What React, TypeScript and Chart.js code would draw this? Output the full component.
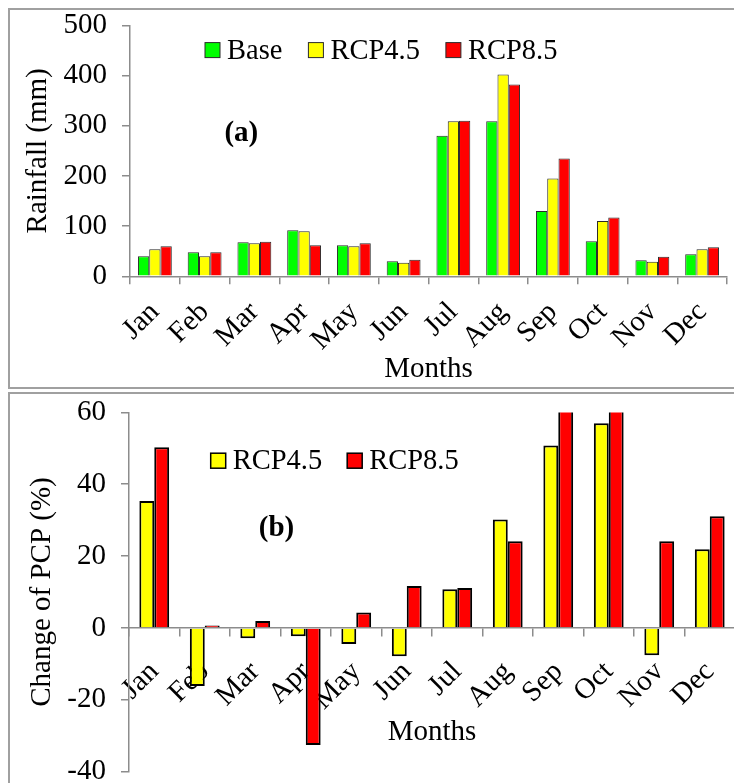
import React, { useEffect, useRef } from 'react';
import { Chart, registerables } from 'chart.js';

Chart.register(...registerables);

const months = ['Jan', 'Feb', 'Mar', 'Apr', 'May', 'Jun', 'Jul', 'Aug', 'Sep', 'Oct', 'Nov', 'Dec'];

// Panel (a): monthly rainfall (mm)
const baseRain = [40, 48, 68, 92, 62, 30, 280, 309, 130, 70, 32, 44];
const rcp45Rain = [54, 40, 66, 90, 60, 27, 309, 402, 195, 110, 29, 54];
const rcp85Rain = [60, 48, 69, 62, 66, 33, 310, 382, 235, 117, 39, 58];

// Panel (b): change of precipitation (%)
const rcp45Change = [35.3, -16.2, -2.9, -2.3, -4.5, -7.9, 10.8, 30.2, 50.8, 57, -7.6, 21.9];
const rcp85Change = [50.3, 0.7, 1.9, -32.6, 4.3, 11.7, 11.1, 24.1, 80.8, 67, 24.1, 31.1];

const rainTicks = [0, 100, 200, 300, 400, 500];
const changeTicks = [-40, -20, 0, 20, 40, 60];

const FONT = '"Liberation Serif", "Times New Roman", serif';
const AXIS_GRAY = '#8c8c8c';
const TICK_SIZE = 29;
const TITLE_SIZE = 29;

type OverlayCfg = {
  legendDx: number;
  legendDy: number;
  gap: number;
  boxBorder: string;
  boxBorderWidth: number;
  tag: string;
  tagDx: number;
  tagDy: number;
};

function makeOverlay(cfg: OverlayCfg) {
  return {
    id: 'overlay',
    afterDraw(chart: any) {
      const { ctx, chartArea } = chart;
      ctx.save();
      ctx.font = `28.5px ${FONT}`;
      ctx.textBaseline = 'middle';
      ctx.textAlign = 'left';
      let x = chartArea.left + cfg.legendDx;
      const y = chartArea.top + cfg.legendDy;
      const box = 15;
      chart.data.datasets.forEach((ds: any) => {
        ctx.fillStyle = ds.backgroundColor;
        ctx.fillRect(x, y - box / 2, box, box);
        ctx.strokeStyle = cfg.boxBorder;
        ctx.lineWidth = cfg.boxBorderWidth;
        ctx.strokeRect(x, y - box / 2, box, box);
        ctx.fillStyle = '#000';
        ctx.fillText(ds.label, x + 22, y + 1);
        x += 22 + ctx.measureText(ds.label).width + cfg.gap;
      });
      ctx.font = `bold 29px ${FONT}`;
      ctx.textAlign = 'center';
      ctx.fillStyle = '#000';
      ctx.fillText(cfg.tag, chartArea.left + cfg.tagDx, chartArea.top + cfg.tagDy);
      ctx.restore();
    },
  };
}

function gridOpts(offset: boolean) {
  return {
    drawOnChartArea: false,
    drawTicks: true,
    tickLength: 8,
    color: AXIS_GRAY,
    tickColor: AXIS_GRAY,
    lineWidth: 1.5,
    offset,
  };
}

const borderOpts = { color: AXIS_GRAY, width: 1.5 };

export default function App() {
  const topRef = useRef<HTMLCanvasElement>(null);
  const botRef = useRef<HTMLCanvasElement>(null);

  useEffect(() => {
    document.body.style.margin = '0';
    const c1 = new Chart(topRef.current as HTMLCanvasElement, {
      type: 'bar',
      data: {
        labels: months,
        datasets: [
          { label: 'Base', data: baseRain, backgroundColor: '#00ff00', borderColor: '#2a2a2a', borderWidth: 1 },
          { label: 'RCP4.5', data: rcp45Rain, backgroundColor: '#ffff00', borderColor: '#2a2a2a', borderWidth: 1 },
          { label: 'RCP8.5', data: rcp85Rain, backgroundColor: '#ff0000', borderColor: '#2a2a2a', borderWidth: 1 },
        ],
      },
      options: {
        responsive: false,
        animation: false,
        events: [],
        categoryPercentage: 0.68,
        barPercentage: 1,
        layout: { padding: { top: 32.3, left: 12, right: 7, bottom: 1.2 } },
        plugins: { legend: { display: false }, tooltip: { enabled: false } },
        scales: {
          x: {
            grid: gridOpts(true),
            border: borderOpts,
            ticks: {
              color: '#000',
              font: { family: FONT, size: TICK_SIZE },
              minRotation: 45,
              maxRotation: 45,
              padding: 11,
              autoSkip: false,
            },
            title: { display: true, text: 'Months', color: '#000', font: { family: FONT, size: TITLE_SIZE }, padding: 0 },
            afterFit: (s: any) => {
              s.height = 110.5;
              s.paddingLeft = 0;
              s.paddingRight = 0;
            },
          },
          y: {
            grid: gridOpts(false),
            border: borderOpts,
            min: rainTicks[0],
            max: rainTicks[rainTicks.length - 1],
            ticks: {
              stepSize: rainTicks[1] - rainTicks[0],
              color: '#000',
              font: { family: FONT, size: TICK_SIZE },
              padding: 15,
            },
            title: { display: true, text: 'Rainfall (mm)', color: '#000', font: { family: FONT, size: TITLE_SIZE }, padding: 0 },
            afterFit: (s: any) => {
              s.width = 109;
            },
          },
        },
      } as any,
      plugins: [
        makeOverlay({
          legendDx: 75,
          legendDy: 24.7,
          gap: 26,
          boxBorder: '#2a2a2a',
          boxBorderWidth: 1,
          tag: '(a)',
          tagDx: 111.3,
          tagDy: 108,
        }),
      ],
    });

    const c2 = new Chart(botRef.current as HTMLCanvasElement, {
      type: 'bar',
      data: {
        labels: months,
        datasets: [
          { label: 'RCP4.5', data: rcp45Change, backgroundColor: '#ffff00', borderColor: '#000', borderWidth: 2 },
          { label: 'RCP8.5', data: rcp85Change, backgroundColor: '#ff0000', borderColor: '#000', borderWidth: 2 },
        ],
      },
      options: {
        responsive: false,
        animation: false,
        events: [],
        categoryPercentage: 0.59,
        barPercentage: 1,
        layout: { padding: { top: 31.7, left: 16, right: 4, bottom: 32.3 } },
        plugins: { legend: { display: false }, tooltip: { enabled: false } },
        scales: {
          x: {
            position: { y: 0 },
            grid: gridOpts(true),
            border: borderOpts,
            ticks: {
              color: '#000',
              font: { family: FONT, size: TICK_SIZE },
              minRotation: 45,
              maxRotation: 45,
              padding: 19,
              autoSkip: false,
            },
            title: { display: true, text: 'Months', color: '#000', font: { family: FONT, size: TITLE_SIZE }, padding: 0 },
            afterFit: (s: any) => {
              s.height = 122;
              s.paddingLeft = 0;
              s.paddingRight = 0;
            },
          },
          y: {
            grid: gridOpts(false),
            border: borderOpts,
            min: changeTicks[0],
            max: changeTicks[changeTicks.length - 1],
            ticks: {
              stepSize: changeTicks[1] - changeTicks[0],
              color: '#000',
              font: { family: FONT, size: TICK_SIZE },
              padding: 15,
            },
            title: { display: true, text: 'Change of PCP (%)', color: '#000', font: { family: FONT, size: TITLE_SIZE }, padding: 0 },
            afterFit: (s: any) => {
              s.width = 104;
            },
          },
        },
      } as any,
      plugins: [
        makeOverlay({
          legendDx: 81.7,
          legendDy: 48.3,
          gap: 25,
          boxBorder: '#000',
          boxBorderWidth: 1.5,
          tag: '(b)',
          tagDx: 147.5,
          tagDy: 115.8,
        }),
      ],
    });

    return () => {
      c1.destroy();
      c2.destroy();
    };
  }, []);

  return (
    <div style={{ position: 'relative', width: 734, height: 783, overflow: 'hidden', background: '#fff' }}>
      <div
        style={{
          position: 'absolute',
          left: 8,
          top: 8,
          width: 760,
          height: 381,
          border: '2px solid #a0a0a0',
          boxSizing: 'border-box',
        }}
      />
      <div
        style={{
          position: 'absolute',
          left: 8,
          top: 392,
          width: 760,
          height: 420,
          border: '2px solid #a0a0a0',
          boxSizing: 'border-box',
        }}
      />
      <canvas ref={topRef} width={725} height={395} style={{ position: 'absolute', left: 9, top: -7 }} />
      <canvas ref={botRef} width={730} height={424} style={{ position: 'absolute', left: 9, top: 380 }} />
    </div>
  );
}
